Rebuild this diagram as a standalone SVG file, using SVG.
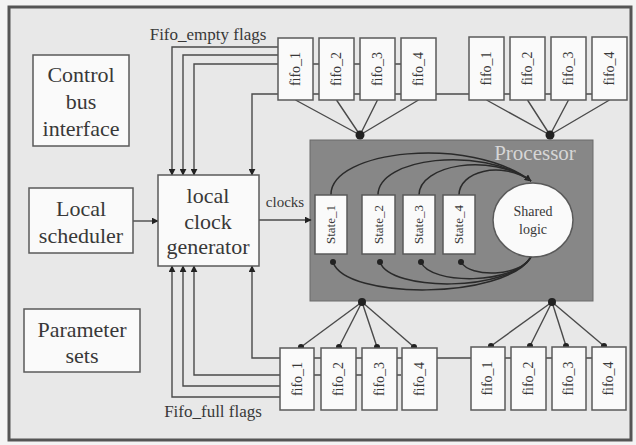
<svg xmlns="http://www.w3.org/2000/svg" width="636" height="445" viewBox="0 0 636 445">
<style>
.box{fill:#fafafa;stroke:#5a5a5a;stroke-width:1.5}
.t{font-family:"Liberation Serif",serif;fill:#383838;text-anchor:middle}
.big{font-size:22px}
.sm{font-size:14px}
.ln{fill:none;stroke:#4a4a4a;stroke-width:1.4}
.arc{fill:none;stroke:#2a2a2a;stroke-width:1.5}
</style>
<defs>
<marker id="ah" viewBox="0 0 10 10" refX="9" refY="5" markerWidth="7" markerHeight="7" orient="auto" markerUnits="userSpaceOnUse"><path d="M0,0 L10,5 L0,10 z" fill="#222"/></marker>
<marker id="dot" viewBox="0 0 10 10" refX="5" refY="5" markerWidth="6" markerHeight="6" markerUnits="userSpaceOnUse"><circle cx="5" cy="5" r="5" fill="#222"/></marker>
</defs>
<rect x="0" y="0" width="636" height="445" fill="#f4f4f4"/>
<rect x="9" y="7" width="622" height="433" fill="#e8e8e8" stroke="#555" stroke-width="3"/>

<g id="processor">
<rect x="310" y="140" width="283" height="161" fill="#878787" stroke="#6a6a6a" stroke-width="1"/>
<text class="t" x="535" y="160" font-size="21" style="fill:#d6d6d6">Processor</text>
</g>

<g id="connectors">
<path class="ln" d="M278,47 H172 V175" marker-end="url(#ah)"/>
<path class="ln" d="M278,55 H183 V175" marker-end="url(#ah)"/>
<path class="ln" d="M401,64 H194 V175" marker-end="url(#ah)"/>
<path class="ln" d="M626,94 H252 V175" marker-end="url(#ah)"/>
<path class="ln" d="M280,397 H172 V266" marker-end="url(#ah)"/>
<path class="ln" d="M280,386 H183 V266" marker-end="url(#ah)"/>
<path class="ln" d="M401,375 H194 V266" marker-end="url(#ah)"/>
<path class="ln" d="M626,358 H252 V266" marker-end="url(#ah)"/>
<path class="ln" d="M133,221 H158" marker-end="url(#ah)"/>
<path class="ln" d="M259,220 H311" marker-end="url(#ah)"/>
<text class="t" x="285" y="207" font-size="15">clocks</text>
<path class="ln" d="M295.5,100 L360,135 M336.5,100 L360,135 M377.5,100 L360,135 M418.5,100 L360,135"/>
<path class="ln" d="M486.5,100 L550,135 M527.5,100 L550,135 M568.5,100 L550,135 M609.5,100 L550,135"/>
<circle cx="360" cy="135" r="4.5" fill="#222"/>
<circle cx="550" cy="135" r="4.5" fill="#222"/>
<path class="ln" d="M362,302 L301,347" marker-end="url(#dot)"/>
<path class="ln" d="M362,302 L339,347" marker-end="url(#dot)"/>
<path class="ln" d="M362,302 L377,347" marker-end="url(#dot)"/>
<path class="ln" d="M362,302 L414,347" marker-end="url(#dot)"/>
<path class="ln" d="M552,302 L491,346" marker-end="url(#dot)"/>
<path class="ln" d="M552,302 L530,346" marker-end="url(#dot)"/>
<path class="ln" d="M552,302 L566,346" marker-end="url(#dot)"/>
<path class="ln" d="M552,302 L604,346" marker-end="url(#dot)"/>
<circle cx="362" cy="302" r="4" fill="#222"/>
<circle cx="552" cy="302" r="4" fill="#222"/>
<path class="arc" d="M331,195 C330,150 470,135 531,181" marker-end="url(#ah)"/>
<path class="arc" d="M378,195 C378,158 480,145 531,181"/>
<path class="arc" d="M419,195 C419,165 490,152 531,181"/>
<path class="arc" d="M459,195 C459,172 500,160 531,181"/>
<path class="arc" d="M531,257 C505,300 345,300 333,262" marker-end="url(#dot)"/>
<path class="arc" d="M531,257 C510,292 390,292 380,262" marker-end="url(#dot)"/>
<path class="arc" d="M531,257 C515,285 430,285 421,262" marker-end="url(#dot)"/>
<path class="arc" d="M531,257 C520,277 470,278 461,262" marker-end="url(#dot)"/>
<text class="t" x="208" y="40" font-size="17">Fifo_empty flags</text>
<text class="t" x="213" y="417" font-size="17">Fifo_full flags</text>
</g>

<g id="control-bus">
<rect class="box" x="33" y="55" width="96" height="91"/>
<text class="t big" x="81" y="82">Control</text>
<text class="t big" x="81" y="109">bus</text>
<text class="t big" x="81" y="136">interface</text>
</g>
<g id="local-scheduler">
<rect class="box" x="29" y="188" width="104" height="65"/>
<text class="t big" x="81" y="216">Local</text>
<text class="t big" x="81" y="243">scheduler</text>
</g>
<g id="parameter-sets">
<rect class="box" x="24" y="309" width="116" height="63"/>
<text class="t big" x="82" y="337">Parameter</text>
<text class="t big" x="82" y="363">sets</text>
</g>
<g id="lcg">
<rect class="box" x="158" y="175" width="101" height="91"/>
<text class="t big" x="208" y="203">local</text>
<text class="t big" x="208" y="229">clock</text>
<text class="t big" x="208" y="254">generator</text>
</g>

<g id="state1"><rect class="box" x="315" y="195" width="32" height="59"/><text class="t" font-size="13" transform="translate(335,224.5) rotate(-90)">State_1</text></g>
<g id="state2"><rect class="box" x="362" y="195" width="33" height="59"/><text class="t" font-size="13" transform="translate(383,224.5) rotate(-90)">State_2</text></g>
<g id="state3"><rect class="box" x="403" y="195" width="32" height="59"/><text class="t" font-size="13" transform="translate(423,224.5) rotate(-90)">State_3</text></g>
<g id="state4"><rect class="box" x="443" y="195" width="32" height="59"/><text class="t" font-size="13" transform="translate(463,224.5) rotate(-90)">State_4</text></g>
<g id="shared-logic">
<ellipse cx="533" cy="220" rx="40" ry="37" fill="#fafafa" stroke="#5a5a5a" stroke-width="1.5"/>
<text class="t sm" x="533" y="216">Shared</text>
<text class="t sm" x="533" y="234">logic</text>
</g>

<g id="fifo-top-a1"><rect class="box" x="278" y="38" width="35" height="62"/><text class="t sm" transform="translate(300,69) rotate(-90)">fifo_1</text></g>
<g id="fifo-top-a2"><rect class="box" x="319" y="38" width="35" height="62"/><text class="t sm" transform="translate(341,69) rotate(-90)">fifo_2</text></g>
<g id="fifo-top-a3"><rect class="box" x="360" y="38" width="35" height="62"/><text class="t sm" transform="translate(382,69) rotate(-90)">fifo_3</text></g>
<g id="fifo-top-a4"><rect class="box" x="401" y="38" width="35" height="62"/><text class="t sm" transform="translate(423,69) rotate(-90)">fifo_4</text></g>
<g id="fifo-top-b1"><rect class="box" x="469" y="37" width="35" height="63"/><text class="t sm" transform="translate(491,68.5) rotate(-90)">fifo_1</text></g>
<g id="fifo-top-b2"><rect class="box" x="510" y="37" width="35" height="63"/><text class="t sm" transform="translate(532,68.5) rotate(-90)">fifo_2</text></g>
<g id="fifo-top-b3"><rect class="box" x="551" y="37" width="35" height="63"/><text class="t sm" transform="translate(573,68.5) rotate(-90)">fifo_3</text></g>
<g id="fifo-top-b4"><rect class="box" x="592" y="37" width="35" height="63"/><text class="t sm" transform="translate(614,68.5) rotate(-90)">fifo_4</text></g>

<g id="fifo-bot-a1"><rect class="box" x="280" y="348" width="34" height="62"/><text class="t sm" transform="translate(302,379) rotate(-90)">fifo_1</text></g>
<g id="fifo-bot-a2"><rect class="box" x="321" y="348" width="35" height="62"/><text class="t sm" transform="translate(343,379) rotate(-90)">fifo_2</text></g>
<g id="fifo-bot-a3"><rect class="box" x="362" y="348" width="35" height="62"/><text class="t sm" transform="translate(384,379) rotate(-90)">fifo_3</text></g>
<g id="fifo-bot-a4"><rect class="box" x="402" y="348" width="35" height="62"/><text class="t sm" transform="translate(424,379) rotate(-90)">fifo_4</text></g>
<g id="fifo-bot-b1"><rect class="box" x="471" y="347" width="34" height="63"/><text class="t sm" transform="translate(492,378.5) rotate(-90)">fifo_1</text></g>
<g id="fifo-bot-b2"><rect class="box" x="511" y="347" width="35" height="63"/><text class="t sm" transform="translate(533,378.5) rotate(-90)">fifo_2</text></g>
<g id="fifo-bot-b3"><rect class="box" x="552" y="347" width="34" height="63"/><text class="t sm" transform="translate(573,378.5) rotate(-90)">fifo_3</text></g>
<g id="fifo-bot-b4"><rect class="box" x="592" y="347" width="34" height="63"/><text class="t sm" transform="translate(613,378.5) rotate(-90)">fifo_4</text></g>
</svg>
